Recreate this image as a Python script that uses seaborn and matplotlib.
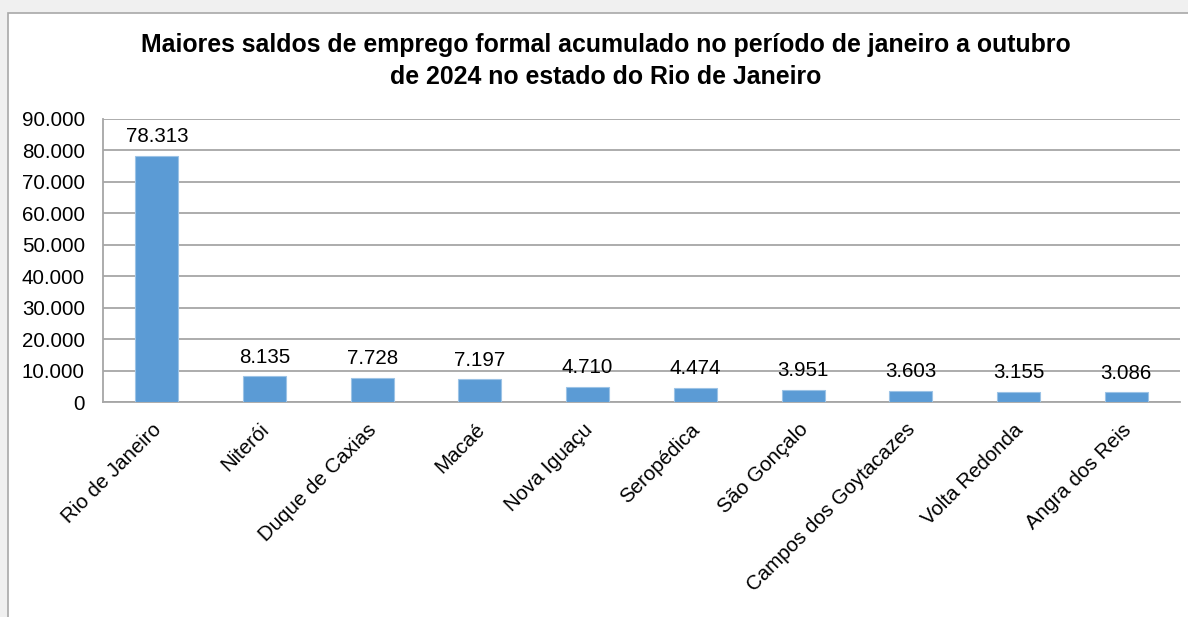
import matplotlib
matplotlib.use("Agg")
import matplotlib.pyplot as plt
import matplotlib.patches as mpatches
import matplotlib.transforms as mtransforms
import pandas as pd
import seaborn as sns

# Data.
municipios = [
    "Rio de Janeiro",
    "Niterói",
    "Duque de Caxias",
    "Macaé",
    "Nova Iguaçu",
    "Seropédica",
    "São Gonçalo",
    "Campos dos Goytacazes",
    "Volta Redonda",
    "Angra dos Reis",
]
saldos = [78313, 8135, 7728, 7197, 4710, 4474, 3951, 3603, 3155, 3086]
y_ticks = [0, 10000, 20000, 30000, 40000, 50000, 60000, 70000, 80000, 90000]

title = (
    "Maiores saldos de emprego formal acumulado no período de janeiro a outubro\n"
    "de 2024 no estado do Rio de Janeiro"
)


def fmt(v):
    return "{:,}".format(v).replace(",", ".")


sns.set_style("white")
plt.rcParams["font.family"] = ["Liberation Sans", "DejaVu Sans"]
plt.rcParams["text.color"] = "#000000"
plt.rcParams["xtick.color"] = "#000000"
plt.rcParams["ytick.color"] = "#000000"

df = pd.DataFrame({"municipio": municipios, "saldo": saldos})

W, H = 1188, 617
fig = plt.figure(figsize=(W / 100, H / 100), dpi=100)
fig.patch.set_facecolor("#f0f0f0")

# White panel with gray border.
panel = mpatches.Rectangle(
    (8 / W, -0.05),
    1.2,
    1 - 13 / H + 0.05,
    transform=fig.transFigure,
    facecolor="white",
    edgecolor="#a8a8a8",
    linewidth=1.2,
    zorder=0,
)
fig.add_artist(panel)

ax = fig.add_axes([103 / W, 1 - 402 / H, (1180 - 103) / W, (402 - 119) / H])
ax.set_facecolor("none")

sns.barplot(
    data=df,
    x="municipio",
    y="saldo",
    color="#5b9bd5",
    width=0.4,
    saturation=1,
    edgecolor="#9cc3e6",
    linewidth=0.8,
    ax=ax,
    zorder=3,
)

ax.set_ylim(0, 90000)
ax.set_yticks(y_ticks)
ax.set_yticklabels([fmt(t) for t in y_ticks], fontsize=14.8)
ax.yaxis.grid(True, color="#a6a6a6", linewidth=1.3, zorder=0)
ax.set_axisbelow(True)

for side in ["top", "right"]:
    ax.spines[side].set_visible(False)
for side in ["left", "bottom"]:
    ax.spines[side].set_color("#a6a6a6")
    ax.spines[side].set_linewidth(1.3)

ax.tick_params(axis="y", length=0, pad=13)
ax.tick_params(axis="x", length=0, pad=13)
ax.set_xticks(range(len(municipios)))
ax.set_xticklabels(
    municipios, rotation=45, ha="right", va="top", rotation_mode="anchor",
    fontsize=14.8,
)
shift = mtransforms.ScaledTranslation(-5 / 100, 0, fig.dpi_scale_trans)
for lbl in ax.get_xticklabels():
    lbl.set_transform(lbl.get_transform() + shift)
ax.set_xlabel("")
ax.set_ylabel("")

for i, v in enumerate(saldos):
    ax.annotate(
        fmt(v),
        xy=(i, v),
        xytext=(0, 7),
        textcoords="offset points",
        ha="center",
        va="bottom",
        fontsize=14.8,
        color="#000000",
    )

fig.text(
    606 / W,
    1 - 61 / H,
    title,
    ha="center",
    va="center",
    fontsize=17.9,
    fontweight="bold",
    linespacing=1.45,
)

fig.savefig("out.png", dpi=100)
plt.close()
